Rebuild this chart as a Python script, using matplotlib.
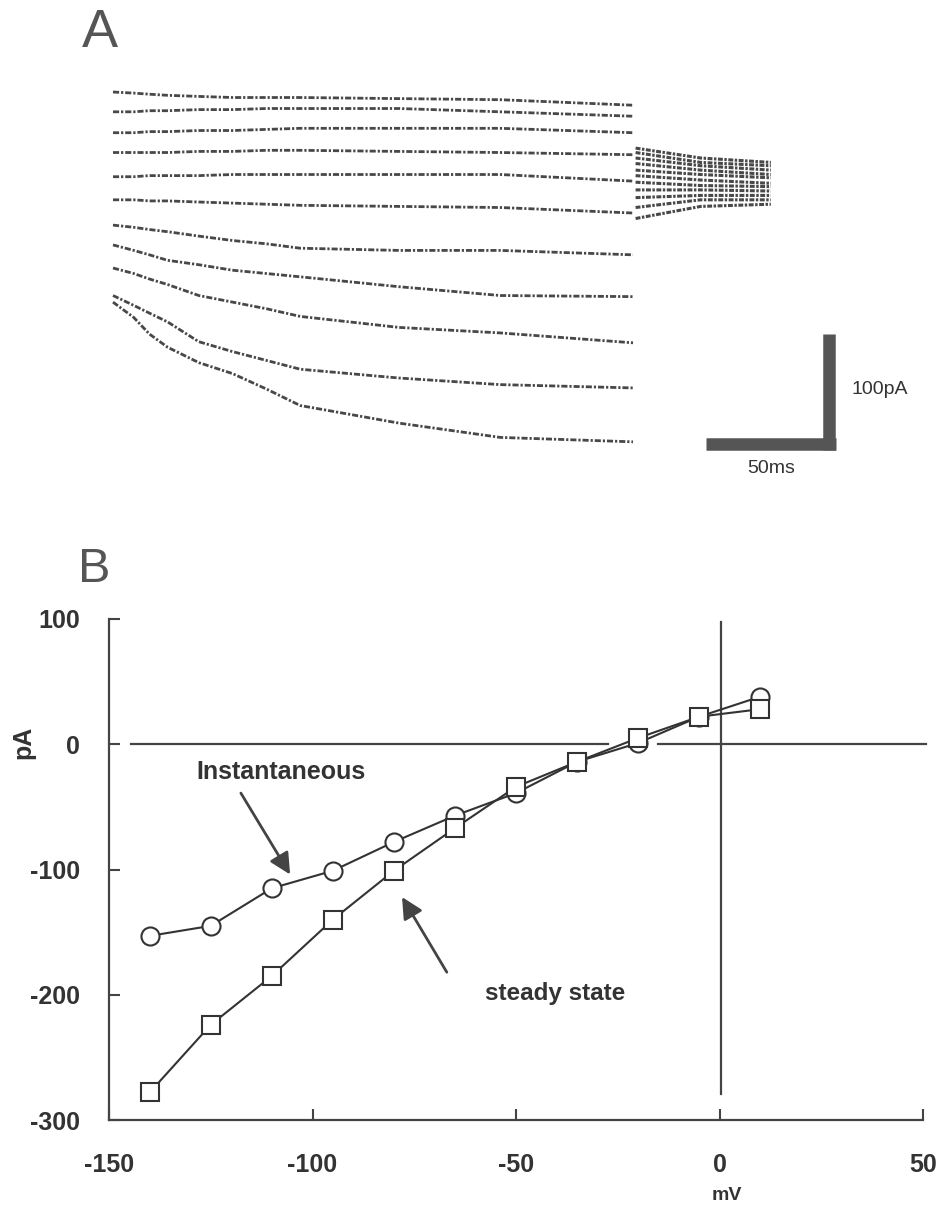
import matplotlib
matplotlib.use("Agg")
import matplotlib.pyplot as plt

plt.rcParams["font.family"] = ["Liberation Sans", "DejaVu Sans"]
plt.rcParams["axes.unicode_minus"] = False

INK = "#333333"

# ---- panel A: current traces (ms, pA) --------------------------------------
step_ms = [0, 8, 14, 21, 33, 46, 59, 72, 110, 149, 200]
tail_ms = [201, 226, 253]

step_traces = [
    [0, -1, -2, -3, -4, -5, -5, -5, -6, -7, -12],
    [-18, -18, -17, -17, -16, -16, -15, -15, -15, -18, -22],
    [-37, -37, -36, -36, -35, -35, -34, -33, -33, -33, -37],
    [-55, -55, -55, -55, -54, -54, -53, -53, -54, -55, -57],
    [-77, -77, -76, -76, -76, -75, -75, -75, -75, -75, -81],
    [-98, -98, -99, -99, -100, -101, -102, -103, -104, -105, -110],
    [-121, -123, -125, -127, -131, -135, -138, -142, -144, -144, -148],
    [-139, -144, -148, -153, -157, -162, -165, -168, -177, -185, -186],
    [-160, -165, -170, -175, -185, -191, -197, -204, -214, -219, -228],
    [-185, -194, -201, -209, -227, -236, -244, -252, -260, -266, -269],
    [-191, -205, -220, -232, -246, -256, -270, -285, -301, -314, -318],
]
tail_traces = [
    [-51, -60, -64],
    [-55, -64, -67],
    [-60, -67, -71],
    [-65, -71, -75],
    [-71, -75, -78],
    [-76, -80, -83],
    [-82, -85, -86],
    [-89, -89, -90],
    [-96, -94, -94],
    [-105, -98, -98],
    [-115, -104, -102],
]
scale_ms = 50
scale_pA = 100

# ---- panel B: I-V relation --------------------------------------------------
mv = [-140, -125, -110, -95, -80, -65, -50, -35, -20, -5, 10]
inst_pA = [-153, -145, -115, -101, -78, -57, -39, -14, 1, 22, 38]
steady_pA = [-278, -224, -185, -140, -101, -67, -34, -14, 5, 22, 28]
x_ticks = [-150, -100, -50, 0, 50]
x_labels = ["-150", "-100", "-50", "0", "50"]
y_ticks = [100, 0, -100, -200, -300]
y_labels = ["100", "0", "-100", "-200", "-300"]

W, H = 947, 1220
fig = plt.figure(figsize=(W / 100, H / 100), dpi=100)


def px_axes(x0, y0, x1, y1):
    """Axes box from pixel corners (top-left origin)."""
    return fig.add_axes([x0 / W, 1 - y1 / H, (x1 - x0) / W, (y1 - y0) / H])


# panel A
axA = px_axes(100, 60, 860, 480)
axA.set_xlim(-5, 287.3)
axA.set_ylim(-352.7, 29.1)
axA.axis("off")
for ys in step_traces:
    axA.plot(step_ms, ys, color="#484848", lw=2.0,
             ls=(0, (2.2, 0.7, 0.8, 0.7)))
for yt in tail_traces:
    axA.plot(tail_ms, yt, color="#484848", lw=2.2,
             ls=(0, (1.6, 0.5, 0.8, 0.5)))

bar_x1 = 278
bar_y0 = -320
axA.plot([bar_x1 - scale_ms, bar_x1], [bar_y0, bar_y0], color="#555555",
         lw=9, solid_capstyle="butt")
axA.plot([bar_x1 - 2.5, bar_x1 - 2.5], [bar_y0 - 5, bar_y0 + scale_pA],
         color="#555555", lw=9, solid_capstyle="butt")
axA.text(bar_x1 + 6, bar_y0 + scale_pA * 0.5, "%dpA" % scale_pA, fontsize=14,
         color=INK, va="center", ha="left")
axA.text(bar_x1 - scale_ms * 0.5, bar_y0 - 22, "%dms" % scale_ms, fontsize=14,
         color=INK, va="center", ha="center")

fig.text(82 / W, 1 - 47 / H, "A", fontsize=39, color="#555555", va="baseline")
fig.text(78 / W, 1 - 582 / H, "B", fontsize=35, color="#555555", va="baseline")

# panel B
ax = px_axes(109, 619, 923, 1120)
ax.set_xlim(-150, 50)
ax.set_ylim(-300, 100)
for s in ("top", "right"):
    ax.spines[s].set_visible(False)
for s in ("left", "bottom"):
    ax.spines[s].set_linewidth(1.6)
    ax.spines[s].set_color("#444444")
ax.set_xticks(x_ticks, x_labels)
ax.set_yticks(y_ticks, y_labels)
ax.tick_params(direction="in", length=8, width=1.5, color="#444444",
               labelsize=18, labelcolor=INK)
ax.tick_params(axis="y", pad=21)
ax.tick_params(axis="x", pad=24)
for lab in ax.get_xticklabels() + ax.get_yticklabels():
    lab.set_fontweight("bold")

ax.plot([-144.5, -27.4], [0, 0], color="#444444", lw=1.6)
ax.plot([-15, 50.8], [0, 0], color="#444444", lw=1.6, clip_on=False)
ax.plot([0.4, 0.4], [98, -279], color="#444444", lw=1.6)

ax.plot(mv, inst_pA, color="#333333", lw=1.5, marker="o", ms=13,
        mfc="white", mec="#333333", mew=1.5, zorder=3)
ax.plot(mv, steady_pA, color="#333333", lw=1.5, marker="s", ms=12.5,
        mfc="white", mec="#333333", mew=1.5, zorder=4)

ax.text(-107.7, -22, "Instantaneous", fontsize=18, fontweight="bold",
        color=INK, ha="center", va="center")
ax.text(-40.4, -199, "steady state", fontsize=17.5, fontweight="bold",
        color=INK, ha="center", va="center")
arrow = dict(arrowstyle="-|>", mutation_scale=32, lw=2, color="#444444",
             shrinkA=0, shrinkB=0)
ax.annotate("", xy=(-105.5, -104), xytext=(-117.6, -39), arrowprops=arrow)
ax.annotate("", xy=(-78, -122), xytext=(-67, -182), arrowprops=arrow)

fig.text(23 / W, 1 - 742 / H, "pA", fontsize=18, fontweight="bold",
         color=INK, rotation=90, ha="center", va="center")
fig.text(727 / W, 1 - 1195 / H, "mV", fontsize=14, fontweight="bold",
         color=INK, ha="center", va="center")

fig.savefig("out.png", dpi=100, facecolor="white")
